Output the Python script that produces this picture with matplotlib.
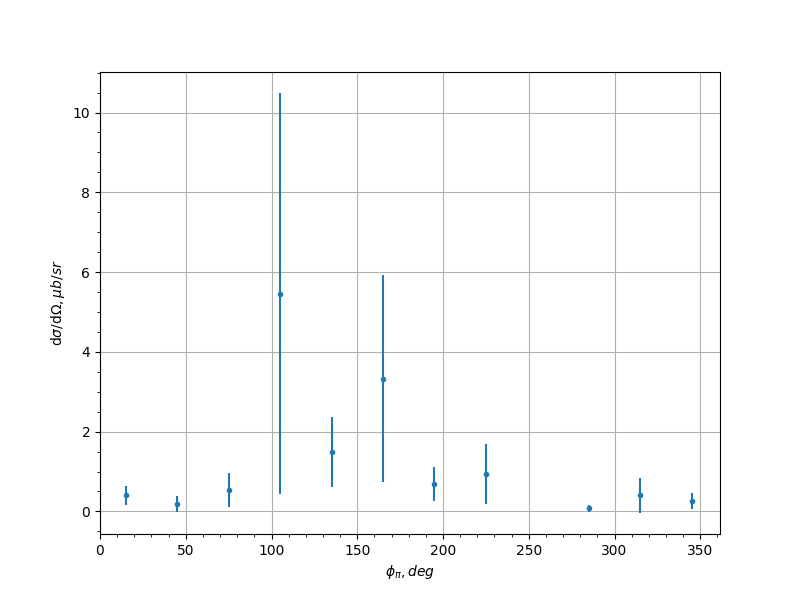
import matplotlib
matplotlib.use('Agg')
import matplotlib.pyplot as plt

phi = [15, 45, 75, 105, 135, 165, 195, 225, 285, 315, 345]
xsec = [0.40, 0.18, 0.53, 5.46, 1.48, 3.33, 0.68, 0.93, 0.08, 0.40, 0.27]
err = [0.24, 0.20, 0.43, 5.03, 0.88, 2.59, 0.43, 0.75, 0.09, 0.44, 0.20]

fig, ax = plt.subplots(figsize=(8, 6), dpi=100)
ax.errorbar(phi, xsec, yerr=err, fmt='.')
ax.set_xlim(left=0)
ax.set_xlabel(r'$\phi_\pi, deg$')
ax.set_ylabel(r'd$\sigma$/d$\Omega, \mu b/sr$')
ax.minorticks_on()
ax.grid(True)
plt.savefig('out.png')
